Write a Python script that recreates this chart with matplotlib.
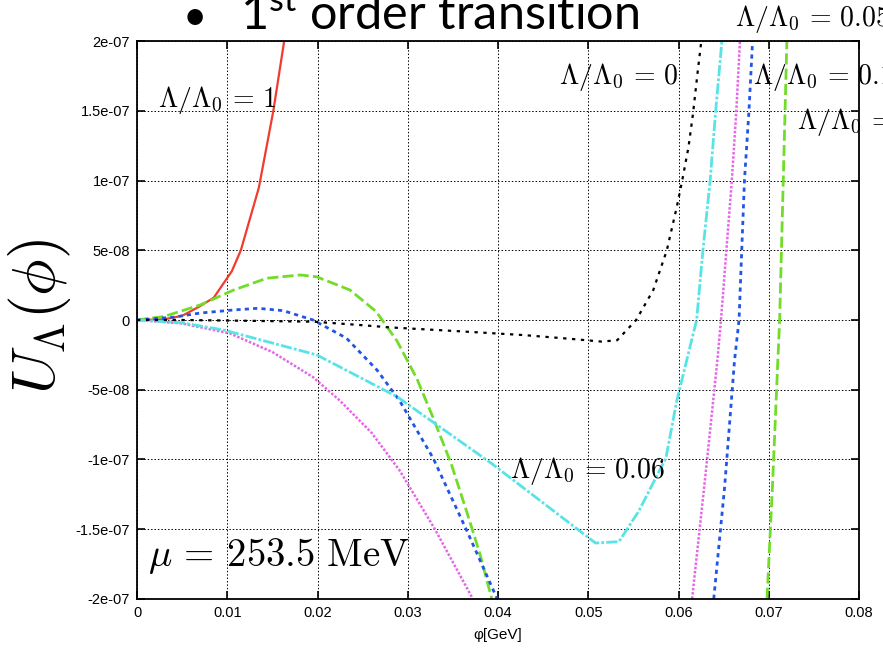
import numpy as np
import matplotlib
matplotlib.use("Agg")
from matplotlib import pyplot as plt

plt.rcParams['mathtext.fontset'] = 'cm'
plt.rcParams['mathtext.rm'] = 'Lato'

# phi in GeV, U in units of 1e-8
phi_1 = [0, 0.003, 0.005, 0.007, 0.0085, 0.0105, 0.0115, 0.0135, 0.0151, 0.0163]
u_1 = [0, 0.05, 0.3, 1.0, 1.6, 3.5, 5.0, 9.5, 15, 20]

phi_005 = [0, 0.003, 0.007, 0.0107, 0.0144, 0.0181, 0.0199, 0.0236, 0.0265, 0.0288,
           0.031, 0.0328, 0.0348, 0.0365, 0.038, 0.0393, np.nan,
           0.0698, 0.0704, 0.0710, 0.0712, 0.0714, 0.0716, 0.0718, 0.0720]
u_005 = [0, 0.25, 1.08, 2.15, 3.0, 3.23, 3.1, 2.15, 0.6, -1.5,
         -4.2, -7.0, -10.3, -13.7, -16.8, -20, np.nan,
         -20, -12, -2.9, 0, 5, 10, 15, 20]

phi_01 = [0, 0.004, 0.007, 0.0107, 0.0134, 0.0162, 0.0195, 0.0232, 0.0266, 0.0291,
          0.0328, 0.0366, 0.0399, np.nan,
          0.0639, 0.0651, 0.0662, 0.0667, 0.0670, 0.0673, 0.0678, 0.0682]
u_01 = [0, 0.2, 0.5, 0.72, 0.84, 0.67, 0, -1.3, -3.6, -5.8,
        -9.9, -15.2, -20, np.nan,
        -20, -12, -2.9, 0, 5, 10, 15, 20]

phi_0054 = [0, 0.005, 0.0103, 0.015, 0.0195, 0.0225, 0.026, 0.0291, 0.033, 0.0372, np.nan,
            0.0615, 0.0630, 0.0643, 0.0647, 0.0653, 0.0659, 0.0664, 0.0668]
u_0054 = [0, -0.25, -0.96, -2.3, -4.1, -5.8, -8.1, -10.8, -15, -20, np.nan,
          -20, -11, -2.9, 0, 5, 10, 15, 20]

phi_006 = [0, 0.005, 0.0096, 0.0199, 0.0288, 0.0393, 0.0508, 0.0534, 0.0556, 0.0586,
           0.0598, 0.0609, 0.0620, 0.0627, 0.0635, 0.0641, 0.0648]
u_006 = [0, -0.2, -0.72, -2.5, -5.5, -10.3, -16.0, -15.9, -13.7, -9.9,
         -5.8, -2.9, 0, 5, 10, 14.9, 20]

phi_0 = [0, 0.005, 0.0114, 0.0195, 0.0247, 0.028, 0.0355, 0.0428, 0.048, 0.0515,
         0.0532, 0.0553, 0.0572, 0.0587, 0.0598, 0.0604, 0.0611, 0.0616, 0.0621, 0.0625]
u_0 = [0, 0, -0.05, -0.12, -0.36, -0.53, -0.8, -1.08, -1.35, -1.55,
       -1.45, 0, 2.15, 5.0, 8.1, 10, 12.4, 14.8, 17.7, 19.9]

xticks = [0, 0.01, 0.02, 0.03, 0.04, 0.05, 0.06, 0.07, 0.08]
xtick_labels = ['0', '0.01', '0.02', '0.03', '0.04', '0.05', '0.06', '0.07', '0.08']
yticks = [2e-7, 1.5e-7, 1e-7, 5e-8, 0, -5e-8, -1e-7, -1.5e-7, -2e-7]
ytick_labels = ['2e-07', '1.5e-07', '1e-07', '5e-08', '0', '-5e-08', '-1e-07', '-1.5e-07', '-2e-07']

fig = plt.figure(figsize=(8.83, 6.52), dpi=100)
ax = fig.add_axes([0.1552, 0.0816, 0.8177, 0.8552])

s = 1e-8
ax.plot(phi_1, np.array(u_1) * s, color='#f03c2e', lw=1.6, ls='-')
ax.plot(phi_005, np.array(u_005) * s, color='#72dc2a', lw=2.0, ls=(0, (4, 1.5)))
ax.plot(phi_01, np.array(u_01) * s, color='#2255e6', lw=2.0, ls=(0, (1.5, 1.5)))
ax.plot(phi_0054, np.array(u_0054) * s, color='#e468e6', lw=1.8, ls=(0, (1, 0.7)))
ax.plot(phi_006, np.array(u_006) * s, color='#58e4e6', lw=2.0, ls=(0, (4, 0.8, 1, 0.8)))
ax.plot(phi_0, np.array(u_0) * s, color='black', lw=1.6, ls=(0, (1.5, 2.5)))

ax.set_xlim(0, 0.08)
ax.set_ylim(-2e-7, 2e-7)
ax.set_xticks(xticks)
ax.set_xticklabels(xtick_labels, fontfamily='Liberation Sans', fontsize=10.5)
ax.set_yticks(yticks)
ax.set_yticklabels(ytick_labels, fontfamily='Liberation Sans', fontsize=10.5)
ax.tick_params(direction='in', length=6, width=1.2, top=True, right=True, pad=5)
ax.grid(True, color='black', lw=0.7, ls=(0, (1.5, 2)))
for sp in ax.spines.values():
    sp.set_linewidth(1.3)

ax.set_xlabel(u'\u03c6[GeV]', fontfamily='Liberation Sans', fontsize=11, labelpad=6)
fig.text(0.045, 0.515, r'$U_\Lambda(\phi)$', rotation=90, fontsize=44,
         ha='center', va='center')

lab = dict(fontsize=20, va='center', clip_on=False)
ax.text(0.0023, 15.8e-8, r'$\Lambda/\Lambda_0 \,=\, 1$', ha='left', **lab)
ax.text(0.0600, 17.4e-8, r'$\Lambda/\Lambda_0 \,=\, 0$', ha='right', **lab)
ax.text(0.0663, 21.6e-8, r'$\Lambda/\Lambda_0 \,=\, 0.054$', ha='left', **lab)
ax.text(0.0682, 17.4e-8, r'$\Lambda/\Lambda_0 \,=\, 0.1$', ha='left', **lab)
ax.text(0.0731, 14.2e-8, r'$\Lambda/\Lambda_0 \,=\, 0.05$', ha='left', **lab)
ax.text(0.0413, -10.8e-8, r'$\Lambda/\Lambda_0 \,=\, 0.06$', ha='left', **lab)
ax.text(0.0012, -16.9e-8, r'$\mu \,=\, 253.5\ \mathrm{MeV}$', ha='left', fontsize=28, va='center')

fig.text(0.221, 1 - 30 / 652, u'\u2022', fontsize=30, fontfamily='Lato', va='baseline', ha='center')
fig.text(0.272, 1 - 30 / 652, r'1$^{\mathrm{st}}$ order transition', fontsize=35,
         fontfamily='Lato', va='baseline', ha='left', math_fontfamily='custom')

fig.savefig('out.png', dpi=100)
